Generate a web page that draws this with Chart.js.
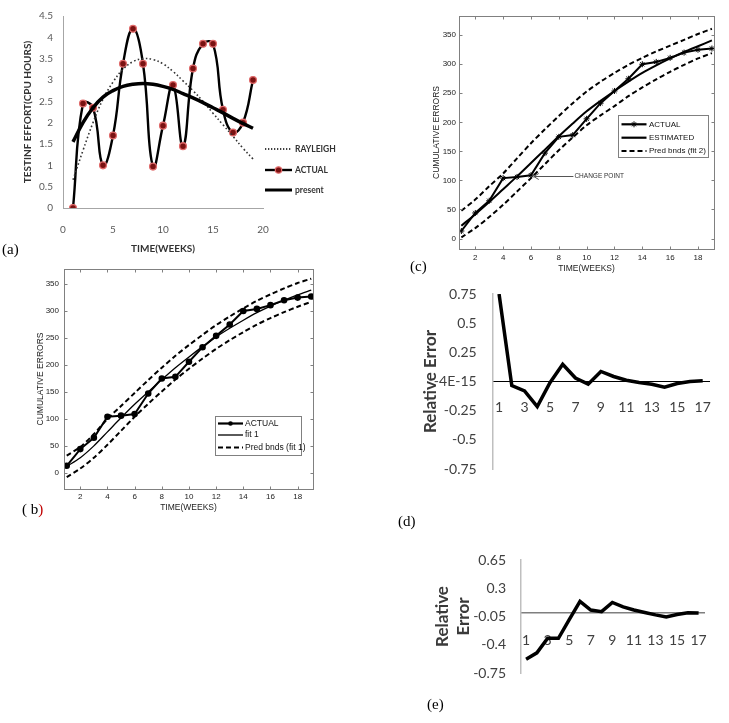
<!DOCTYPE html>
<html>
<head>
<meta charset="utf-8">
<script src="https://cdn.jsdelivr.net/npm/chart.js@4.4.0/dist/chart.umd.min.js"></script>
<style>
  body { margin: 0; background: #fff; }
  #page { position: relative; width: 729px; height: 723px; overflow: hidden; background: #fff; }
  canvas { position: absolute; }
  .tag { position: absolute; font: 15px "Liberation Serif", "Times New Roman", serif; line-height: 15px; color: #000; }
</style>
</head>
<body>
<div id="page">
  <canvas id="chartA" width="340" height="262" style="left:0;top:0"></canvas>
  <canvas id="chartC" width="349" height="280" style="left:380px;top:0"></canvas>
  <canvas id="chartB" width="330" height="262" style="left:0;top:262px"></canvas>
  <canvas id="chartD" width="309" height="240" style="left:420px;top:280px"></canvas>
  <canvas id="chartE" width="309" height="160" style="left:420px;top:530px"></canvas>
  <div class="tag" style="left:2px;top:242px">(a)</div>
  <div class="tag" style="left:22px;top:502px">( b<span style="color:#c00000">)</span></div>
  <div class="tag" style="left:410px;top:259px">(c)</div>
  <div class="tag" style="left:398px;top:514px">(d)</div>
  <div class="tag" style="left:427px;top:697px">(e)</div>
</div>
<script>
// panel (a): testing effort
const weeks = [1, 2, 3, 4, 5, 6, 7, 8, 9, 10, 11, 12, 13, 14, 15, 16, 17, 18, 19];
const weekTicksA = [0, 5, 10, 15, 20];
const effortTicks = [0, 0.5, 1, 1.5, 2, 2.5, 3, 3.5, 4, 4.5];
const rayleighEffort = [0.66, 1.35, 2.0, 2.55, 2.95, 3.25, 3.43, 3.5, 3.48, 3.38, 3.2, 2.98, 2.75, 2.5, 2.22, 1.95, 1.68, 1.4, 1.15];
const actualEffort = [0, 2.45, 2.35, 1.0, 1.7, 3.38, 4.2, 3.38, 0.97, 1.93, 2.88, 1.45, 3.27, 3.85, 3.85, 2.3, 1.77, 2.0, 3.0];
const presentEffort = [1.55, 2.0, 2.35, 2.6, 2.75, 2.85, 2.9, 2.92, 2.9, 2.85, 2.78, 2.68, 2.58, 2.47, 2.35, 2.23, 2.1, 1.98, 1.87];

// panels (b) and (c): cumulative errors
const weekTicks = [2, 4, 6, 8, 10, 12, 14, 16, 18];
const errorTicks = [0, 50, 100, 150, 200, 250, 300, 350];
const actualErrors = [13, 44, 65, 104, 106, 109, 147, 175, 178, 206, 233, 254, 275, 300, 304, 311, 320, 325, 327];
const fit1Errors = [12, 28, 50, 76, 102, 127, 150, 173, 195, 215, 234, 252, 268, 283, 297, 309, 320, 330, 339];
const fit1Upper = [32, 48, 72, 100, 124, 148, 172, 195, 217, 237, 256, 274, 290, 305, 319, 331, 342, 352, 360];
const fit1Lower = [-8, 8, 28, 52, 78, 104, 128, 151, 173, 193, 212, 230, 246, 261, 275, 287, 298, 308, 317];
const est2Errors = [22, 42, 63, 85, 107, 130, 153, 176, 198, 219, 237, 254, 270, 285, 298, 310, 321, 331, 341];
const fit2Upper = [48, 67, 90, 112, 138, 164, 188, 211, 233, 253, 270, 285, 299, 311, 322, 332, 342, 352, 361];
const fit2Lower = [2, 18, 37, 58, 81, 104, 128, 152, 174, 195, 212, 228, 245, 260, 274, 287, 299, 310, 319];

// panels (d) and (e): relative error
const relWeeks = ['1', '2', '3', '4', '5', '6', '7', '8', '9', '10', '11', '12', '13', '14', '15', '16', '17'];
const relErrorD = [0.75, -0.035, -0.08, -0.215, -0.01, 0.148, 0.03, -0.023, 0.086, 0.043, 0.011, -0.009, -0.023, -0.048, -0.017, 0.0, 0.006];
const relErrorE = [-0.58, -0.5, -0.32, -0.32, -0.09, 0.137, 0.03, 0.01, 0.124, 0.07, 0.03, 0.0, -0.03, -0.055, -0.026, -0.004, -0.008];
const relTicksD = [-0.75, -0.5, -0.25, 0, 0.25, 0.5, 0.75];
const relTicksE = [-0.75, -0.4, -0.05, 0.3, 0.65];

const MFONT = '"Liberation Sans Narrow", "Liberation Sans", Arial, sans-serif';
const XFONT = 'Lato, "Open Sans", sans-serif';

Chart.defaults.animation = false;
Chart.defaults.responsive = false;
Chart.defaults.plugins.legend.display = false;
Chart.defaults.plugins.tooltip.enabled = false;

const pts = (xs, ys) => xs.map((x, i) => ({ x: x, y: ys[i] }));
const fixTicks = list => s => { s.ticks = list.map(v => ({ value: v })); };
// invisible tick marks give the label gap without growing the layout padding
const gap = n => ({ display: true, drawOnChartArea: false, drawTicks: true, tickLength: n, color: 'rgba(0,0,0,0)' });

// MATLAB style frame with inward ticks
const matlabBox = {
  id: 'matlabBox',
  afterDatasetsDraw(chart) {
    const { ctx, chartArea: a, scales: { x, y } } = chart;
    const L = Math.round(a.left) + 0.5, R = Math.round(a.right) + 0.5;
    const T = Math.round(a.top) + 0.5, B = Math.round(a.bottom) + 0.5;
    ctx.save();
    ctx.strokeStyle = '#808080';
    ctx.lineWidth = 1;
    ctx.strokeRect(L, T, R - L, B - T);
    ctx.beginPath();
    x.ticks.forEach(t => {
      const px = Math.round(x.getPixelForValue(t.value)) + 0.5;
      ctx.moveTo(px, B); ctx.lineTo(px, B - 3);
      ctx.moveTo(px, T); ctx.lineTo(px, T + 3);
    });
    y.ticks.forEach(t => {
      const py = Math.round(y.getPixelForValue(t.value)) + 0.5;
      ctx.moveTo(L, py); ctx.lineTo(L + 3, py);
      ctx.moveTo(R, py); ctx.lineTo(R - 3, py);
    });
    ctx.stroke();
    ctx.restore();
  }
};

function keyPlugin(spec) {
  return {
    id: 'key',
    afterDraw(chart) {
      const ctx = chart.ctx;
      ctx.save();
      if (spec.box) {
        const [bx, by, bw, bh] = spec.box;
        ctx.fillStyle = '#fff';
        ctx.fillRect(bx, by, bw, bh);
        ctx.strokeStyle = '#808080';
        ctx.lineWidth = 1;
        ctx.strokeRect(bx + 0.5, by + 0.5, bw, bh);
      }
      ctx.font = spec.font;
      ctx.textBaseline = 'middle';
      spec.items.forEach(it => {
        ctx.strokeStyle = '#000';
        ctx.lineWidth = it.width;
        ctx.setLineDash(it.dash || []);
        ctx.beginPath();
        ctx.moveTo(spec.x0, it.y);
        ctx.lineTo(spec.x1, it.y);
        ctx.stroke();
        ctx.setLineDash([]);
        if (it.marker) it.marker(ctx, (spec.x0 + spec.x1) / 2, it.y);
        ctx.fillStyle = spec.color;
        ctx.fillText(it.label, spec.tx, it.y);
      });
      ctx.restore();
    }
  };
}

function dot(r, fill, stroke, lw) {
  return (ctx, x, y) => {
    ctx.beginPath();
    ctx.arc(x, y, r, 0, Math.PI * 2);
    ctx.fillStyle = fill;
    ctx.fill();
    if (stroke) { ctx.strokeStyle = stroke; ctx.lineWidth = lw; ctx.stroke(); }
  };
}

function star(ctx, x, y) {
  ctx.strokeStyle = '#000';
  ctx.lineWidth = 1;
  ctx.beginPath();
  ctx.moveTo(x - 3, y); ctx.lineTo(x + 3, y);
  ctx.moveTo(x, y - 3); ctx.lineTo(x, y + 3);
  ctx.moveTo(x - 2, y - 2); ctx.lineTo(x + 2, y + 2);
  ctx.moveTo(x - 2, y + 2); ctx.lineTo(x + 2, y - 2);
  ctx.stroke();
}

// (a)
new Chart('chartA', {
  type: 'line',
  data: {
    datasets: [
      { data: pts(weeks, presentEffort), borderColor: '#000', borderWidth: 3.5, pointRadius: 0, tension: 0.4 },
      { data: pts(weeks, rayleighEffort), borderColor: '#333', borderWidth: 1.6, borderDash: [1.6, 2.4], pointRadius: 0, tension: 0.4 },
      { data: pts(weeks, actualEffort), borderColor: '#000', borderWidth: 2.4, tension: 0.45, pointRadius: 3.4,
        pointBackgroundColor: '#7a1212', pointBorderColor: '#e06a6a', pointBorderWidth: 1.3 }
    ]
  },
  options: {
    layout: { padding: { left: 0, top: 16, right: 77, bottom: 0 } },
    scales: {
      x: {
        type: 'linear', min: 0, max: 20,
        afterFit: s => { s.height = 54; },
        afterBuildTicks: fixTicks(weekTicksA),
        grid: { display: false, drawTicks: false },
        border: { color: '#a6a6a6', width: 1 },
        ticks: { padding: 16, color: '#595959', font: { family: XFONT, size: 10 }, callback: v => String(v) },
        title: { display: true, text: 'TIME(WEEKS)', color: '#333', font: { family: XFONT, size: 10, weight: 'bold' }, padding: { top: 0, bottom: 7 } }
      },
      y: {
        min: 0, max: 4.5,
        afterFit: s => { s.width = 63; },
        afterBuildTicks: fixTicks(effortTicks),
        grid: gap(10),
        border: { color: '#a6a6a6', width: 1 },
        ticks: { padding: 0, color: '#595959', font: { family: XFONT, size: 10 }, callback: v => String(v) },
        title: { display: true, text: 'TESTINF EFFORT(CPU HOURS)', color: '#333', font: { family: XFONT, size: 10, weight: 'bold' }, padding: { top: 22, bottom: 0 } }
      }
    }
  },
  plugins: [keyPlugin({
    font: 'bold 8.5px ' + XFONT, color: '#333', x0: 265, x1: 292, tx: 295,
    items: [
      { label: 'RAYLEIGH', y: 149, width: 1.3, dash: [1.3, 1.7] },
      { label: 'ACTUAL', y: 170, width: 2.4, marker: dot(3.2, '#7a1212', '#e06a6a', 1.2) },
      { label: 'present', y: 190, width: 3 }
    ]
  })]
});

// (b)
new Chart('chartB', {
  type: 'line',
  data: {
    datasets: [
      { data: pts(weeks, fit1Upper), borderColor: '#000', borderWidth: 2, borderDash: [5, 3], pointRadius: 0, tension: 0.3 },
      { data: pts(weeks, fit1Lower), borderColor: '#000', borderWidth: 2, borderDash: [5, 3], pointRadius: 0, tension: 0.3 },
      { data: pts(weeks, fit1Errors), borderColor: '#000', borderWidth: 1.3, pointRadius: 0, tension: 0.3 },
      { data: pts(weeks, actualErrors), borderColor: '#000', borderWidth: 2, pointRadius: 2.3,
        pointBackgroundColor: '#000', pointBorderColor: '#000', tension: 0 }
    ]
  },
  options: {
    layout: { padding: { left: 0, top: 7, right: 17, bottom: 0 } },
    scales: {
      x: {
        type: 'linear', min: 0.8, max: 19.13,
        afterFit: s => { s.height = 35; },
        afterBuildTicks: fixTicks(weekTicks),
        grid: { display: false, drawTicks: false },
        border: { display: false },
        ticks: { padding: 3, color: '#222', font: { family: MFONT, size: 8 }, callback: v => String(v) },
        title: { display: true, text: 'TIME(WEEKS)', color: '#222', font: { family: MFONT, size: 8.5 }, padding: { top: 0, bottom: 11.5 } }
      },
      y: {
        min: -30, max: 378,
        afterFit: s => { s.width = 64; },
        afterBuildTicks: fixTicks(errorTicks),
        grid: gap(5),
        border: { display: false },
        ticks: { padding: 0, color: '#222', font: { family: MFONT, size: 8 }, callback: v => String(v) },
        title: { display: true, text: 'CUMULATIVE ERRORS', color: '#222', font: { family: MFONT, size: 8.5 }, padding: { top: 36, bottom: 0 } }
      }
    }
  },
  plugins: [matlabBox, keyPlugin({
    box: [215, 154, 86, 39], font: '8.5px ' + MFONT, color: '#111', x0: 218, x1: 243, tx: 245,
    items: [
      { label: 'ACTUAL', y: 161.5, width: 2.2, marker: dot(2.3, '#000') },
      { label: 'fit 1', y: 173, width: 1.3 },
      { label: 'Pred bnds (fit 1)', y: 185.5, width: 2, dash: [5, 3] }
    ]
  })]
});

// (c)
const changePoint = {
  id: 'changePoint',
  afterDatasetsDraw(chart) {
    const { ctx, scales: { x, y } } = chart;
    const tx = x.getPixelForValue(6.2), ty = Math.round(y.getPixelForValue(108)) + 0.5;
    const ex = x.getPixelForValue(9.05);
    ctx.save();
    ctx.strokeStyle = '#555';
    ctx.lineWidth = 1;
    ctx.beginPath();
    ctx.moveTo(ex, ty); ctx.lineTo(tx, ty);
    ctx.moveTo(tx + 5, ty - 3); ctx.lineTo(tx, ty); ctx.lineTo(tx + 5, ty + 3);
    ctx.stroke();
    ctx.font = '6.5px ' + MFONT;
    ctx.fillStyle = '#333';
    ctx.textBaseline = 'middle';
    ctx.fillText('CHANGE POINT', ex + 1, ty);
    ctx.restore();
  }
};

new Chart('chartC', {
  type: 'line',
  data: {
    datasets: [
      { data: pts(weeks, fit2Upper), borderColor: '#000', borderWidth: 2, borderDash: [5, 3], pointRadius: 0, tension: 0.3 },
      { data: pts(weeks, fit2Lower), borderColor: '#000', borderWidth: 2, borderDash: [5, 3], pointRadius: 0, tension: 0.3 },
      { data: pts(weeks, est2Errors), borderColor: '#000', borderWidth: 2, pointRadius: 0, tension: 0.3 },
      { data: pts(weeks, actualErrors), borderColor: '#000', borderWidth: 2, pointStyle: 'star', pointRadius: 3,
        pointBorderWidth: 1, pointBorderColor: '#000', pointBackgroundColor: '#000', tension: 0 }
    ]
  },
  options: {
    layout: { padding: { left: 0, top: 16, right: 15, bottom: 0 } },
    scales: {
      x: {
        type: 'linear', min: 0.83, max: 19.15,
        afterFit: s => { s.height = 31; },
        afterBuildTicks: fixTicks(weekTicks),
        grid: { display: false, drawTicks: false },
        border: { display: false },
        ticks: { padding: 4, color: '#222', font: { family: MFONT, size: 8 }, callback: v => String(v) },
        title: { display: true, text: 'TIME(WEEKS)', color: '#222', font: { family: MFONT, size: 8.5 }, padding: { top: 0, bottom: 6.3 } }
      },
      y: {
        min: -18, max: 383,
        afterFit: s => { s.width = 79; },
        afterBuildTicks: fixTicks(errorTicks),
        grid: gap(3),
        border: { display: false },
        ticks: { padding: 0, color: '#222', font: { family: MFONT, size: 8 }, callback: v => String(v) },
        title: { display: true, text: 'CUMULATIVE ERRORS', color: '#222', font: { family: MFONT, size: 8.5 }, padding: { top: 52, bottom: 0 } }
      }
    }
  },
  plugins: [matlabBox, changePoint, keyPlugin({
    box: [238, 115, 90, 42], font: '8px ' + MFONT, color: '#111', x0: 241.5, x1: 266.5, tx: 269,
    items: [
      { label: 'ACTUAL', y: 124.3, width: 2.2, marker: star },
      { label: 'ESTIMATED', y: 137.7, width: 2.2 },
      { label: 'Pred bnds (fit 2)', y: 151, width: 2, dash: [5, 3] }
    ]
  })]
});

// (d)
new Chart('chartD', {
  type: 'line',
  data: { labels: relWeeks, datasets: [{ data: relErrorD, borderColor: '#000', borderWidth: 3.5, pointRadius: 0, tension: 0 }] },
  options: {
    layout: { padding: { left: 0, top: 14, right: 19, bottom: 51 } },
    scales: {
      x: {
        type: 'category', offset: true, position: { y: 0 },
        afterFit: s => { s.height = 0; },
        grid: { display: false, drawTicks: false },
        border: { color: '#000', width: 1 },
        ticks: { autoSkip: false, maxRotation: 0, padding: 17.6, color: '#404040', font: { family: XFONT, size: 14 },
          callback: function (v, i) { return i % 2 === 0 ? this.getLabelForValue(v) : ''; } }
      },
      y: {
        min: -0.75, max: 0.75,
        afterFit: s => { s.width = 72.7; },
        afterBuildTicks: fixTicks(relTicksD),
        grid: gap(16),
        border: { color: '#bfbfbf', width: 1.5 },
        ticks: { padding: 0, color: '#404040', font: { family: XFONT, size: 14 }, callback: v => v === 0 ? '-4E-15' : String(v) },
        title: { display: true, text: 'Relative Error', color: '#3a3a3a', font: { family: XFONT, size: 17, weight: 'bold' }, padding: { top: 0, bottom: 0 } }
      }
    }
  }
});

// (e)
new Chart('chartE', {
  type: 'line',
  data: { labels: relWeeks, datasets: [{ data: relErrorE, borderColor: '#000', borderWidth: 3.5, pointRadius: 0, tension: 0 }] },
  options: {
    layout: { padding: { left: 0, top: 30, right: 25, bottom: 17 } },
    scales: {
      x: {
        type: 'category', offset: true, position: { y: 0 },
        afterFit: s => { s.height = 0; },
        grid: { display: false, drawTicks: false },
        border: { color: '#7f7f7f', width: 1.5 },
        ticks: { autoSkip: false, maxRotation: 0, padding: 19.3, color: '#404040', font: { family: XFONT, size: 14 },
          callback: function (v, i) { return i % 2 === 0 ? this.getLabelForValue(v) : ''; } }
      },
      y: {
        min: -0.75, max: 0.65,
        afterFit: s => { s.width = 100.7; },
        afterBuildTicks: fixTicks(relTicksE),
        grid: gap(14.7),
        border: { color: '#bfbfbf', width: 1.5 },
        ticks: { padding: 0, color: '#404040', font: { family: XFONT, size: 14 }, callback: v => String(v) },
        title: { display: true, text: ['Relative', 'Error'], color: '#3a3a3a', font: { family: XFONT, size: 17, weight: 'bold' }, padding: { top: 12.8, bottom: 0 } }
      }
    }
  }
});
</script>
</body>
</html>
